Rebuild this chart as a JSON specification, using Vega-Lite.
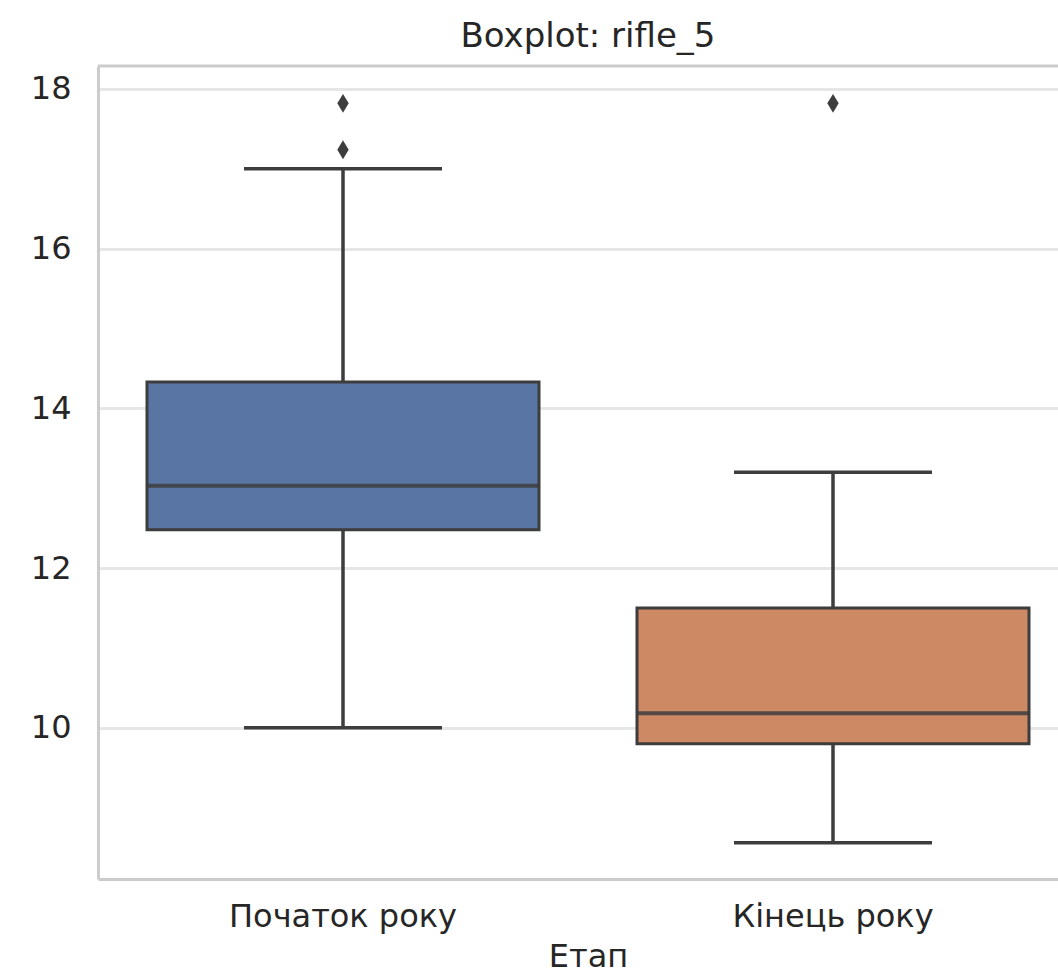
{
  "$schema": "https://vega.github.io/schema/vega-lite/v6.json",
  "width": 960,
  "height": 813,
  "autosize": {"type": "none"},
  "padding": {"left": 98, "top": 66, "right": 0, "bottom": 100},
  "background": "white",
  "config": {"view": {"stroke": null}, "font": "DejaVu Sans"},
  "title": {"text": "Boxplot: rifle_5", "fontSize": 34, "font": "DejaVu Sans", "fontWeight": "normal", "color": "#262626", "offset": 11, "dx": 10},
  "datasets": {
    "stats": [
      {"stage": "Початок року", "lower": 10.0, "q1": 12.48, "median": 13.03, "q3": 14.33, "upper": 17.0},
      {"stage": "Кінець року", "lower": 8.56, "q1": 9.80, "median": 10.18, "q3": 11.50, "upper": 13.20}
    ],
    "outliers": [
      {"stage": "Початок року", "value": 17.82},
      {"stage": "Початок року", "value": 17.24},
      {"stage": "Кінець року", "value": 17.82}
    ],
    "frame": [{"top": 18.288}]
  },
  "encoding": {
    "x": {
      "field": "stage",
      "type": "nominal",
      "sort": ["Початок року", "Кінець року"],
      "scale": {"type": "band", "range": [0, 980], "paddingInner": 0.2, "paddingOuter": 0.1},
      "axis": {
        "title": "Етап",
        "titleFontSize": 32,
        "titleFontWeight": "normal",
        "titleColor": "#262626",
        "titleFont": "DejaVu Sans",
        "titleX": 490,
        "titlePadding": 9,
        "labelFontSize": 32,
        "labelColor": "#262626",
        "labelFont": "DejaVu Sans",
        "labelAngle": 0,
        "labelLimit": 500,
        "labelPadding": 22,
        "ticks": false,
        "grid": false,
        "domain": true,
        "domainColor": "#cccccc",
        "domainWidth": 3
      }
    }
  },
  "layer": [
    {
      "data": {"name": "stats"},
      "mark": {"type": "rule", "color": "#3d3d3d", "strokeWidth": 3.5},
      "encoding": {
        "y": {
          "field": "lower",
          "type": "quantitative",
          "scale": {"domain": [8.105, 18.288], "nice": false, "zero": false},
          "axis": {
            "title": null,
            "values": [10, 12, 14, 16, 18],
            "format": "d",
            "labelFontSize": 32,
            "labelColor": "#262626",
            "labelFont": "DejaVu Sans",
            "labelPadding": 27,
            "ticks": false,
            "grid": true,
            "gridColor": "#e6e6e6",
            "gridWidth": 3,
            "domain": true,
            "domainColor": "#cccccc",
            "domainWidth": 3
          }
        },
        "y2": {"field": "upper"}
      }
    },
    {
      "data": {"name": "stats"},
      "mark": {"type": "bar", "stroke": "#3d3d3d", "strokeWidth": 3, "width": {"band": 1}},
      "encoding": {
        "y": {"field": "q1", "type": "quantitative"},
        "y2": {"field": "q3"},
        "color": {
          "field": "stage",
          "type": "nominal",
          "sort": ["Початок року", "Кінець року"],
          "scale": {"range": ["#5975a4", "#cc8963"]},
          "legend": null
        }
      }
    },
    {
      "data": {"name": "stats"},
      "mark": {"type": "tick", "color": "#3d3d3d", "opacity": 0.85, "thickness": 4, "size": 392},
      "encoding": {"y": {"field": "median", "type": "quantitative"}}
    },
    {
      "data": {"name": "stats"},
      "mark": {"type": "tick", "color": "#3d3d3d", "opacity": 1, "thickness": 3.5, "size": 198},
      "encoding": {"y": {"field": "lower", "type": "quantitative"}}
    },
    {
      "data": {"name": "stats"},
      "mark": {"type": "tick", "color": "#3d3d3d", "opacity": 1, "thickness": 3.5, "size": 198},
      "encoding": {"y": {"field": "upper", "type": "quantitative"}}
    },
    {
      "data": {"name": "outliers"},
      "mark": {"type": "point", "filled": true, "opacity": 1, "color": "#3d3d3d", "shape": "M0,-1L0.6,0L0,1L-0.6,0Z", "size": 360},
      "encoding": {"y": {"field": "value", "type": "quantitative"}}
    },
    {
      "data": {"name": "frame"},
      "mark": {"type": "rule", "color": "#cccccc", "strokeWidth": 3},
      "encoding": {"y": {"field": "top", "type": "quantitative"}, "x": {"value": 0}, "x2": {"value": 980}}
    }
  ]
}
